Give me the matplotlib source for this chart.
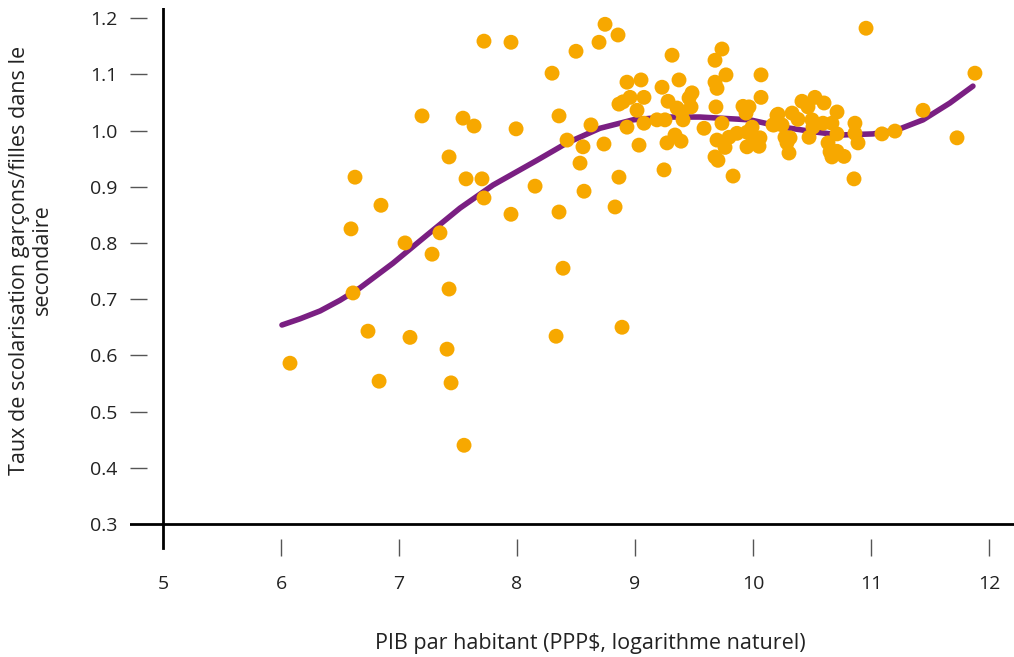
import numpy as np
import matplotlib
matplotlib.use('Agg')
import matplotlib.pyplot as plt

plt.rcParams['font.family'] = ['Open Sans', 'DejaVu Sans']

# PIB par habitant (log) et taux garçons/filles
pib = [6.076, 6.593, 6.627, 6.610, 6.737, 6.847, 6.831, 7.051, 7.093, 7.195,
       7.280, 7.347, 7.407, 7.424, 7.424, 7.441, 7.551, 7.542, 7.568, 7.636,
       7.703, 7.720, 7.720, 7.949, 7.949, 7.992, 8.153, 8.297, 8.331, 8.356,
       8.356, 8.390, 8.424, 8.500, 8.534, 8.559, 8.568, 8.627, 8.695, 8.737,
       8.746, 8.831, 8.856, 8.864, 8.890,
       8.932, 9.051, 9.314, 9.678, 9.737, 9.771, 10.068, 9.373, 9.229, 9.678,
       9.695, 8.864, 8.958, 8.898, 9.076, 9.017, 9.280, 9.356, 9.398, 9.483,
       9.458, 9.475, 9.686, 10.068, 9.915, 9.966, 9.941, 8.932, 9.076, 9.186,
       9.254, 9.407, 9.585, 9.737, 10.203, 10.169, 9.034, 9.271, 9.339, 9.390,
       9.695, 9.763, 9.797, 9.864, 9.949, 9.992, 10.000, 10.059, 10.051, 9.949,
       9.678, 9.703, 9.246, 9.831,
       10.415, 10.525, 10.602, 10.466, 10.212, 10.331, 10.381, 10.712, 10.178, 10.246,
       10.500, 10.508, 10.593, 10.669, 10.864, 10.712, 10.864, 10.475, 10.271, 10.314,
       10.288, 10.890, 11.093, 11.203, 10.636, 10.305, 10.653, 10.669, 10.712, 10.771,
       10.856, 10.958, 11.441, 11.729, 11.881]
ratio = [0.586, 0.825, 0.917, 0.711, 0.643, 0.867, 0.554, 0.800, 0.632, 1.026,
         0.780, 0.818, 0.611, 0.953, 0.718, 0.551, 0.440, 1.022, 0.914, 1.008,
         0.914, 1.159, 0.880, 1.157, 0.851, 1.003, 0.901, 1.102, 0.634, 1.026,
         0.855, 0.755, 0.983, 1.141, 0.942, 0.971, 0.892, 1.010, 1.157, 0.976,
         1.189, 0.864, 1.170, 0.917, 0.650,
         1.086, 1.090, 1.134, 1.125, 1.145, 1.099, 1.099, 1.090, 1.077, 1.086,
         1.075, 1.047, 1.059, 1.051, 1.059, 1.036, 1.052, 1.040, 1.033, 1.067,
         1.058, 1.042, 1.042, 1.059, 1.043, 1.042, 1.031, 1.006, 1.013, 1.019,
         1.019, 1.019, 1.004, 1.013, 1.027, 1.010, 0.974, 0.978, 0.992, 0.981,
         0.983, 0.970, 0.988, 0.995, 0.997, 1.006, 0.988, 0.987, 0.972, 0.971,
         0.953, 0.947, 0.930, 0.919,
         1.052, 1.059, 1.049, 1.042, 1.029, 1.031, 1.020, 1.033, 1.010, 1.010,
         1.019, 1.006, 1.013, 1.013, 1.013, 0.994, 0.995, 0.988, 0.988, 0.987,
         0.978, 0.978, 0.994, 0.999, 0.978, 0.960, 0.962, 0.953, 0.963, 0.954,
         0.914, 1.182, 1.036, 0.987, 1.102]

# courbe de tendance
courbe_x = [6.008, 6.161, 6.331, 6.500, 6.669, 6.949, 7.237, 7.517, 7.797, 8.169,
            8.424, 8.703, 8.983, 9.254, 9.551, 9.975, 10.254, 10.542, 10.737, 11.017,
            11.220, 11.441, 11.669, 11.864]
courbe_y = [0.654, 0.665, 0.679, 0.698, 0.720, 0.764, 0.814, 0.862, 0.903, 0.947,
            0.978, 1.004, 1.019, 1.024, 1.024, 1.019, 1.006, 0.997, 0.992, 0.994,
            1.001, 1.019, 1.049, 1.079]

xticks = [5, 6, 7, 8, 9, 10, 11, 12]
yticks = [0.3, 0.4, 0.5, 0.6, 0.7, 0.8, 0.9, 1.0, 1.1, 1.2]

W, H = 1014, 657
fig = plt.figure(figsize=(W / 100, H / 100), dpi=100)
# axes: gauche 130px, droite 1014px, haut 8px, bas 556px
ax = fig.add_axes([130 / W, 1 - 556 / H, (1014 - 130) / W, (556 - 8) / H])

ax.plot(courbe_x, courbe_y, color='#7A1F82', lw=4, solid_capstyle='round', zorder=2)
ax.scatter(pib, ratio, s=115, color='#F7A800', edgecolors='none', zorder=3)

ax.set_xlim(4.720, 12.212)
ax.set_ylim(0.243, 1.218)

for s in ax.spines.values():
    s.set_visible(False)

# axes noirs
ax.axhline(0.3, xmin=0.0, xmax=1.0, color='black', lw=2, zorder=1)
ybot = (0.257 - 0.243) / (1.218 - 0.243)
ax.axvline(5, ymin=ybot, ymax=1.0, color='black', lw=2, zorder=1)

ax.set_xticks(xticks)
ax.set_xticklabels([str(v) for v in xticks])
ax.set_yticks(yticks)
ax.set_yticklabels(['%.1f' % v for v in yticks])
ax.tick_params(axis='both', direction='in', length=12, width=1, color='#555555',
               labelsize=14, labelcolor='#222222')
ax.tick_params(axis='x', pad=14)
ax.tick_params(axis='y', pad=9)
ax.xaxis.get_major_ticks()[0].tick1line.set_visible(False)
ax.yaxis.get_major_ticks()[0].tick1line.set_visible(False)

fig.text(590 / W, 1 - 643 / H, 'PIB par habitant (PPP$, logarithme naturel)',
         ha='center', va='center', fontsize=15.5, color='#222222')
fig.text(31 / W, 1 - 260 / H, 'Taux de scolarisation garçons/filles dans le\nsecondaire',
         ha='center', va='center', rotation=90, fontsize=15.5, color='#222222',
         multialignment='center', linespacing=1.1)

fig.savefig('out.png', dpi=100)
